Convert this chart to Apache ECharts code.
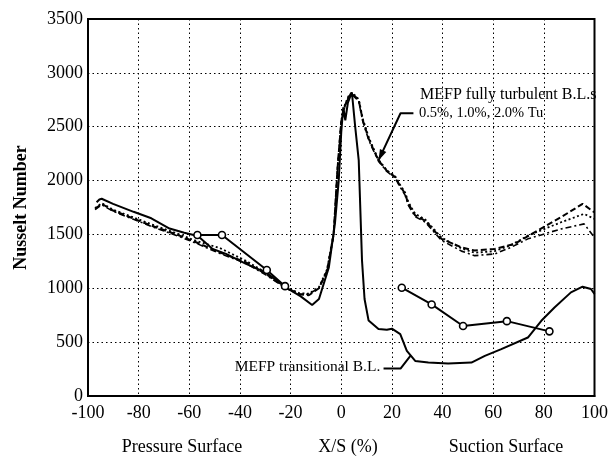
<!DOCTYPE html>
<html>
<head>
<meta charset="utf-8">
<script src="https://cdn.jsdelivr.net/npm/echarts@6/dist/echarts.min.js"></script>
<style>html,body{margin:0;padding:0;background:#fff;}#c{width:611px;height:459px;}</style>
</head>
<body>
<div id="c"></div>
<script>
// ---- data ----
const xTickLabels = ['-100','-80','-60','-40','-20','0','20','40','60','80','100'];
const yTickLabels = ['0','500','1000','1500','2000','2500','3000','3500'];

// MEFP transitional B.L. (solid)
const transitional = [
  [-96.6,1799],[-95.5,1825],[-94.6,1831],[-90.1,1784],[-82,1710],[-75,1650],[-67.8,1555],[-62,1515],[-56.6,1485],
  [-50.8,1365],[-45.5,1319],[-37.6,1226],[-29.8,1148],[-21.9,1008],[-16,925],[-11.5,845],[-8.8,900],
  [-4.9,1194],[-2.5,1600],[-1,2000],[0,2450],[0.8,2680],[1.6,2560],[2.6,2720],[4.2,2820],
  [5.5,2500],[6.9,2190],[8.2,1257],[9.2,900],[10.8,700],[14.7,621],[18,615],[20,625],[23.3,574],
  [25.9,419],[29.2,326],[34.4,310],[42.2,301],[51.4,310],[56.7,372],[63.2,435],[73.7,543],
  [79,698],[84.2,822],[90.7,962],[95.3,1015],[98.6,993],[100,947]
];

// MEFP fully turbulent B.L., 0.5% Tu (dashed)
const turb05 = [
  [-97.2,1738],[-94.6,1784],[-90.1,1722],[-75,1582],[-63.9,1489],[-57.3,1427],[-48.1,1334],[-37.6,1241],
  [-29.8,1133],[-21.9,1008],[-16.7,947],[-12.8,935],[-8.8,1000],[-5.6,1164],[-3,1500],[-1.5,2100],
  [0,2550],[1.5,2700],[3,2780],[4,2810],[5.5,2780],[6.9,2746],[8.5,2560],[10.8,2392],[12.5,2300],
  [14.7,2187],[18,2090],[21.3,2032],[23,1960],[25.2,1877],[26.5,1784],[29.2,1676],[33.1,1629],
  [39.6,1459],[47.5,1380],[52.7,1350],[60.6,1365],[68.4,1412],[76.3,1520],[86.8,1660],[95.3,1784],[99.9,1706]
];

// MEFP fully turbulent B.L., 1.0% Tu (dotted)
const turb10 = [
  [-97.2,1745],[-94.6,1790],[-90.1,1730],[-75,1595],[-63.9,1500],[-57.3,1440],[-48.1,1375],[-37.6,1255],
  [-29.8,1145],[-21.9,1015],[-16.7,955],[-12.8,950],[-8.8,1010],[-5.6,1175],[-3,1510],[-1.5,2110],
  [0,2560],[1.5,2710],[3,2790],[4,2815],[5.5,2790],[6.9,2755],[8.5,2575],[10.8,2405],[12.5,2310],
  [14.7,2195],[18,2095],[21.3,2040],[23,1970],[25.2,1890],[26.5,1800],[29.2,1690],[33.1,1640],
  [39.6,1470],[47.5,1370],[52.7,1330],[60.6,1345],[67,1400],[73.7,1489],[86.8,1613],[95.9,1691],[99.9,1645]
];

// MEFP fully turbulent B.L., 2.0% Tu (dash-dot)
const turb20 = [
  [-97.2,1730],[-94.6,1776],[-90.1,1715],[-75,1575],[-63.9,1480],[-57.3,1418],[-48.1,1325],[-37.6,1232],
  [-29.8,1125],[-21.9,1000],[-16.7,942],[-12.8,945],[-8.8,1005],[-5.6,1160],[-3,1495],[-1.5,2090],
  [0,2540],[1.5,2695],[3,2775],[4,2805],[5.5,2770],[6.9,2735],[8.5,2550],[10.8,2380],[12.5,2290],
  [14.7,2180],[18,2085],[21.3,2025],[23,1950],[25.2,1865],[26.5,1770],[29.2,1665],[33.1,1615],
  [39.6,1445],[47.5,1345],[52.7,1303],[60.6,1319],[67,1380],[73.7,1459],[86.8,1551],[95.9,1598],[99.9,1474]
];

// Experimental data (circles), pressure side and suction side
const expPressure = [[-56.8,1495],[-47.1,1495],[-29.4,1170],[-22.2,1020]];
const expSuction = [[23.9,1005],[35.7,850],[48.1,650],[65.4,695],[82.2,600]];

// annotation anchor points (data coords)
const turbLeader = [[28.5,2625],[23.4,2625],[14.7,2187]];
const transLeader = [[16.7,255],[23.4,255],[27.3,372]];

const serif = '"Liberation Serif", "Times New Roman", serif';
const chart = echarts.init(document.getElementById('c'), null, {renderer:'canvas'});

function lineSeries(data, type, width) {
  return {
    type:'line', data:data, symbol:'none', smooth:false, silent:true,
    lineStyle:{color:'#000', width:width, type:type}, z:3
  };
}

chart.setOption({
  animation:false,
  backgroundColor:'#fff',
  grid:{left:88, right:14, top:19, bottom:63, show:true, borderColor:'#000', borderWidth:2, backgroundColor:'transparent'},
  xAxis:{
    type:'value', min:-100, max:100, interval:20,
    axisLine:{show:true, onZero:false, lineStyle:{color:'#000', width:2}},
    axisTick:{show:false},
    axisLabel:{color:'#000', fontFamily:serif, fontSize:18, margin:8,
      formatter:(v)=>xTickLabels[Math.round((v+100)/20)]},
    splitLine:{show:true, lineStyle:{color:'#000', width:1, type:[1.5,3]}}
  },
  yAxis:{
    type:'value', min:0, max:3500, interval:500,
    axisLine:{show:true, onZero:false, lineStyle:{color:'#000', width:2}},
    axisTick:{show:false},
    axisLabel:{color:'#000', fontFamily:serif, fontSize:18, margin:5,
      formatter:(v)=>yTickLabels[Math.round(v/500)]},
    splitLine:{show:true, lineStyle:{color:'#000', width:1, type:[1.5,3]}},
    name:'Nusselt Number', nameLocation:'middle', nameGap:58, nameRotate:90,
    nameTextStyle:{color:'#000', fontFamily:serif, fontSize:18, fontWeight:'bold'}
  },
  series:[
    lineSeries(turb05, [6,3], 2),
    lineSeries(turb10, [2,2.5], 1.8),
    lineSeries(turb20, [6,3,2,3], 1.6),
    lineSeries(transitional, 'solid', 2),
    {type:'line', data:expPressure, symbol:'circle', symbolSize:7, silent:true,
      itemStyle:{color:'#fff', borderColor:'#000', borderWidth:1.6},
      lineStyle:{color:'#000', width:2}, z:4},
    {type:'line', data:expSuction, symbol:'circle', symbolSize:7, silent:true,
      itemStyle:{color:'#fff', borderColor:'#000', borderWidth:1.6},
      lineStyle:{color:'#000', width:2}, z:4},
    lineSeries(turbLeader, 'solid', 2),
    lineSeries(transLeader, 'solid', 2)
  ]
});

function px(p){ return chart.convertToPixel({gridIndex:0}, p); }
const a = px(turbLeader[1]), b = px(turbLeader[2]);
const dx = b[0]-a[0], dy = b[1]-a[1], L = Math.hypot(dx,dy), ux = dx/L, uy = dy/L;
const headLen = 11, headW = 3.5;
const base = [b[0]-ux*headLen, b[1]-uy*headLen];
const t1 = px([31.1,2792]), t2 = px([30.7,2622]), t3 = px([15.4,270]);

chart.setOption({
  graphic:[
    {type:'polygon', shape:{points:[[b[0],b[1]],[base[0]-uy*headW, base[1]+ux*headW],[base[0]+uy*headW, base[1]-ux*headW]]},
      style:{fill:'#000'}, z:10},
    {type:'text', x:t1[0], y:t1[1], style:{text:'MEFP fully turbulent B.L.s', fill:'#000', font:'16px '+serif, textVerticalAlign:'middle', textAlign:'left'}, z:10},
    {type:'text', x:t2[0], y:t2[1], style:{text:'0.5%, 1.0%, 2.0% Tu', fill:'#000', font:'14.5px '+serif, textVerticalAlign:'middle', textAlign:'left'}, z:10},
    {type:'text', x:t3[0], y:t3[1], style:{text:'MEFP transitional B.L.', fill:'#000', font:'15.5px '+serif, textVerticalAlign:'middle', textAlign:'right'}, z:10},
    {type:'text', x:182, y:447, style:{text:'Pressure Surface', fill:'#000', font:'18px '+serif, textVerticalAlign:'middle', textAlign:'center'}},
    {type:'text', x:348, y:447, style:{text:'X/S (%)', fill:'#000', font:'18px '+serif, textVerticalAlign:'middle', textAlign:'center'}},
    {type:'text', x:506, y:447, style:{text:'Suction Surface', fill:'#000', font:'18px '+serif, textVerticalAlign:'middle', textAlign:'center'}}
  ]
});
</script>
</body>
</html>
